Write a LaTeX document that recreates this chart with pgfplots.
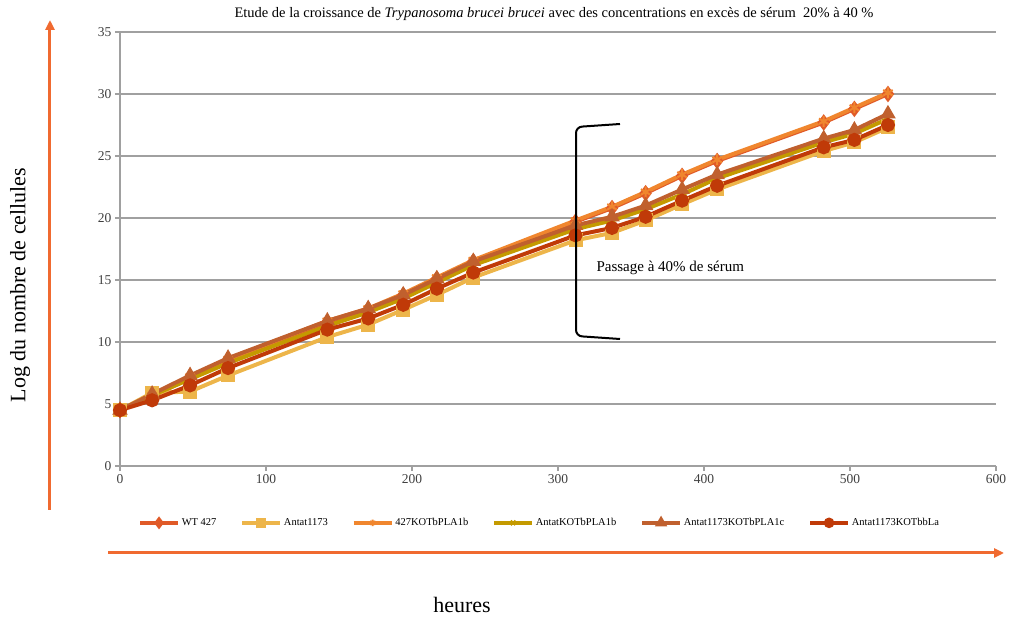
\documentclass[border=0pt]{standalone}
\usepackage{pgfplots}
\pgfplotsset{compat=1.18}
\usetikzlibrary{arrows.meta}
\usepackage{fontspec}
\setmainfont{Liberation Serif}
\definecolor{cWT}{HTML}{E05A28}
\definecolor{cAnt}{HTML}{EDB54A}
\definecolor{cKO}{HTML}{F0862E}
\definecolor{cOl}{HTML}{C49A00}
\definecolor{cTri}{HTML}{C0602E}
\definecolor{cDk}{HTML}{C03A08}
\definecolor{cArr}{HTML}{F06A30}
\definecolor{cGrid}{HTML}{A0A0A0}
\begin{document}
\begin{tikzpicture}
\useasboundingbox (-120pt,-152pt) rectangle (892pt,466pt);
\begin{axis}[
  scale only axis, width=876pt, height=434pt,
  xmin=0, xmax=600, ymin=0, ymax=35,
  xtick={0,100,...,600}, ytick={0,5,...,35},
  axis lines=left, axis line style={cGrid, line width=1.4pt, -},
  ymajorgrids, grid style={cGrid, line width=1.8pt},
  tick style={cGrid, line width=1.2pt},
  tick align=outside, major tick length=5pt,
  /pgf/number format/assume math mode=true,
  ticklabel style={font=\fontsize{13.5}{15}\selectfont, text=black!75},
  legend columns=6,
  legend style={at={(0.479,-0.131)}, anchor=center, draw=none, fill=none,
    font=\fontsize{10.5}{12}\selectfont,
    /tikz/every even column/.append style={column sep=22pt}},
  legend cell align=left,
  legend image code/.code={\draw[#1, line width=3.5pt] (0pt,0pt) -- (38pt,0pt); \draw[#1, mark repeat=1, mark size=3.2pt] plot coordinates {(19pt,0pt)};},
  every axis plot/.append style={line width=4pt},
  clip=false,
]
\addplot[cWT, mark=diamond*, mark size=5pt] coordinates {(0,4.5)(22,5.6)(48,7.1)(74,8.5)(142,11.6)(170,12.6)(194,13.8)(217,15.1)(242,16.5)(312,19.7)(337,20.8)(360,22.0)(385,23.4)(409,24.6)(482,27.7)(503,28.8)(526,30.0)};
\addlegendentry{WT 427}
\addplot[cAnt, mark=square*, mark size=5pt] coordinates {(0,4.5)(22,5.9)(48,6.0)(74,7.3)(142,10.4)(170,11.4)(194,12.6)(217,13.8)(242,15.2)(312,18.2)(337,18.8)(360,19.8)(385,21.1)(409,22.3)(482,25.4)(503,26.1)(526,27.3)};
\addlegendentry{Antat1173}
\addplot[cKO, mark=asterisk, mark size=5.5pt, mark options={line width=2pt}] coordinates {(0,4.5)(22,5.7)(48,7.2)(74,8.6)(142,11.7)(170,12.7)(194,13.9)(217,15.2)(242,16.6)(312,19.8)(337,20.9)(360,22.1)(385,23.5)(409,24.7)(482,27.8)(503,28.9)(526,30.1)};
\addlegendentry{427KOTbPLA1b}
\addplot[cOl, mark=x, mark size=4.5pt, mark options={line width=2pt}] coordinates {(0,4.5)(22,5.7)(48,7.0)(74,8.3)(142,11.3)(170,12.4)(194,13.5)(217,14.8)(242,16.2)(312,19.1)(337,19.8)(360,20.7)(385,21.9)(409,23.2)(482,26.1)(503,26.8)(526,28.0)};
\addlegendentry{AntatKOTbPLA1b}
\addplot[cTri, mark=triangle*, mark size=5pt] coordinates {(0,4.5)(22,5.8)(48,7.3)(74,8.7)(142,11.7)(170,12.7)(194,13.8)(217,15.1)(242,16.5)(312,19.4)(337,20.1)(360,21.0)(385,22.3)(409,23.5)(482,26.4)(503,27.1)(526,28.4)};
\addlegendentry{Antat1173KOTbPLA1c}
\addplot[cDk, mark=*, mark size=5pt] coordinates {(0,4.5)(22,5.3)(48,6.5)(74,7.9)(142,11.0)(170,11.9)(194,13.0)(217,14.3)(242,15.6)(312,18.6)(337,19.2)(360,20.1)(385,21.4)(409,22.6)(482,25.7)(503,26.3)(526,27.5)};
\addlegendentry{Antat1173KOTbbLa}
\end{axis}
% title
\node[font=\fontsize{14.5}{16}\selectfont] at (434pt,452pt) {Etude de la croissance de \textit{Trypanosoma brucei brucei} avec des concentrations en excès de sérum\ \ 20\% à 40 \%};
% decorative arrows
\draw[cArr, line width=3pt, -{Triangle[length=10pt,width=9pt]}] (-70pt,-44pt) -- (-70pt,446pt);
\draw[cArr, line width=3pt, -{Triangle[length=10pt,width=9pt]}] (-12pt,-87pt) -- (884pt,-87pt);
\node[font=\fontsize{22}{24}\selectfont] at (342pt,-139pt) {heures};
\node[font=\fontsize{22}{24}\selectfont, rotate=90] at (-100pt,181pt) {Log du nombre de cellules};
% bracket
\draw[black, line width=2pt, rounded corners=6pt] (500pt,342pt) -- (456pt,339pt) -- (456pt,130pt) -- (500pt,127pt);
\node[anchor=west, font=\fontsize{15}{17}\selectfont] at (473pt,198pt) {Passage à 40\% de sérum};
\end{tikzpicture}
\end{document}
